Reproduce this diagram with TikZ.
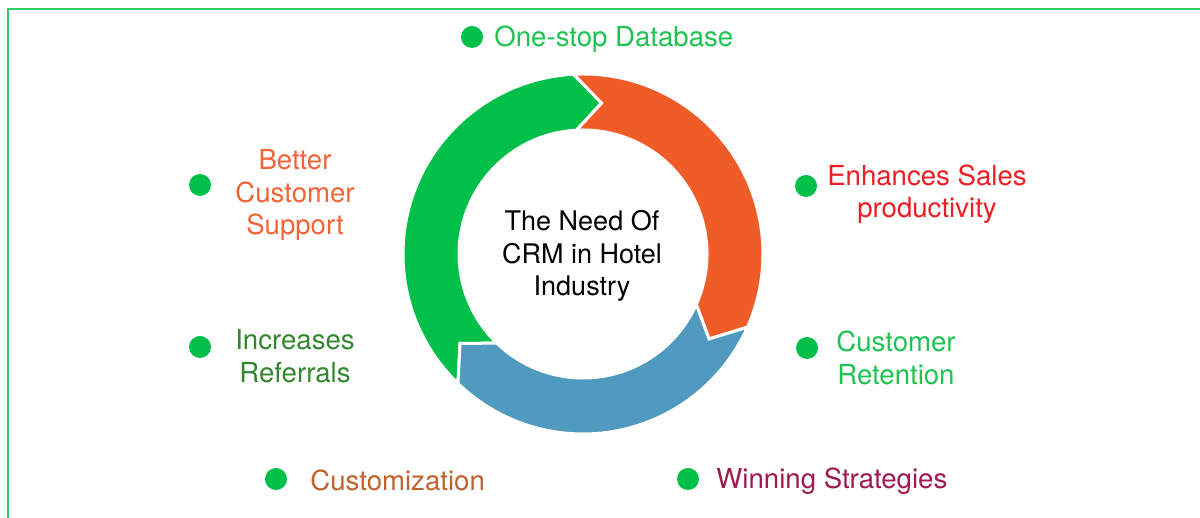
\documentclass[tikz,border=0pt]{standalone}
\usepackage{fontspec}
\setmainfont{TeX Gyre Heros}
\usetikzlibrary{calc}
\definecolor{ringgreen}{RGB}{0,192,74}
\definecolor{ringorange}{RGB}{240,92,40}
\definecolor{ringblue}{RGB}{79,154,190}
\definecolor{framegreen}{RGB}{50,205,100}
\definecolor{txtorange}{RGB}{240,100,55}
\definecolor{txtred}{RGB}{236,30,36}
\definecolor{txtdkgreen}{RGB}{50,135,45}
\definecolor{txtgreen}{RGB}{30,195,80}
\definecolor{txtbrown}{RGB}{192,98,45}
\definecolor{txtmaroon}{RGB}{160,25,75}
\begin{document}
\begin{tikzpicture}[x=0.5pt,y=0.5pt,
 bullet/.style={circle,fill=ringgreen,minimum size=11pt,inner sep=0pt},
 lbl/.style={font=\fontsize{13.8}{16.25}\selectfont,align=center,inner sep=0pt},
 seg/.style={draw=white,line width=1.5pt,line join=miter}]
\useasboundingbox (0,0) rectangle (1200,518);
\clip (0,0) rectangle (1200,518);
\draw[framegreen,line width=1.1pt] (8,-20) rectangle (1230,509);
\coordinate (c) at (583,264);
\def\Ro{180}\def\Ri{124}\def\Rm{152}
\newcommand\ringseg[3]{%
 \pgfmathsetmacro\tipA{#1-10}\pgfmathsetmacro\tipB{#2-10}%
 \fill[#3,seg] ($(c)+(#1:\Ro)$) arc[start angle=#1,end angle=#2,radius=\Ro]
   -- ($(c)+(\tipB:\Rm)$) -- ($(c)+(#2:\Ri)$)
   arc[start angle=#2,end angle=#1,radius=\Ri]
   -- ($(c)+(\tipA:\Rm)$) -- cycle;}
\ringseg{226}{93}{ringgreen}
\ringseg{93}{-24}{ringorange}
\ringseg{-24}{-134}{ringblue}
\node[lbl,black,font=\fontsize{13.5}{16.25}\selectfont] (title) at (582,262) {The Need Of\\CRM in Hotel\\Industry};
\node[bullet] (b1) at (472,481) {};
\node[lbl,txtgreen,anchor=west] (l1) at (494,479) {One-stop Database};
\node[bullet] (b2) at (200,333) {};
\node[lbl,txtorange] (l2) at (295,323) {Better\\Customer\\Support};
\node[bullet] (b3) at (806,332) {};
\node[lbl,txtred] (l3) at (927,324) {Enhances Sales\\productivity};
\node[bullet] (b4) at (200,171) {};
\node[lbl,txtdkgreen] (l4) at (295,162) {Increases\\Referrals};
\node[bullet] (b5) at (807,170) {};
\node[lbl,txtgreen] (l5) at (896,160) {Customer\\Retention};
\node[bullet] (b6) at (276,39) {};
\node[lbl,txtbrown,anchor=west] (l6) at (310,38) {Customization};
\node[bullet] (b7) at (688,39) {};
\node[lbl,txtmaroon,anchor=west] (l7) at (716,37) {Winning Strategies};
\end{tikzpicture}
\end{document}
